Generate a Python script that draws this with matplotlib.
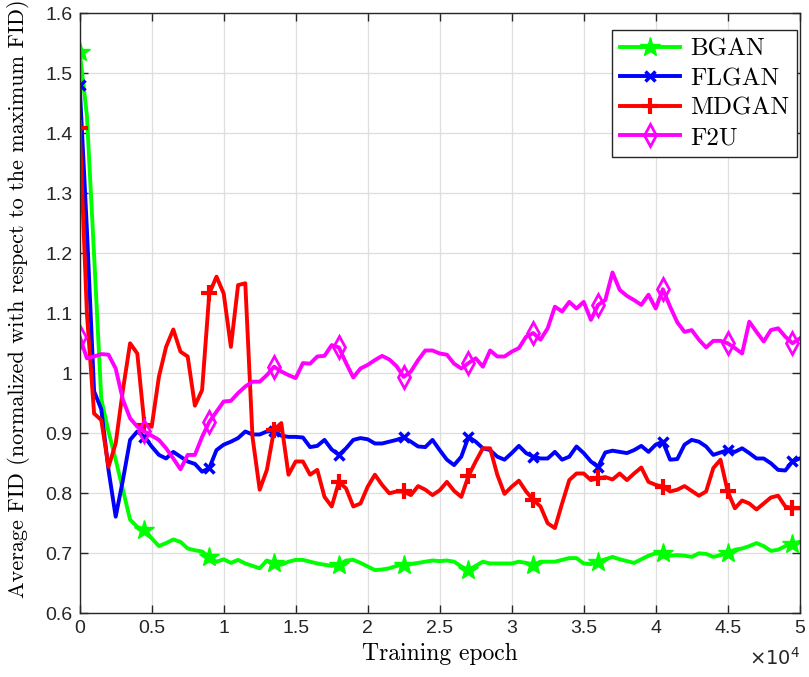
import numpy as np
import matplotlib
matplotlib.use("Agg")
import matplotlib.pyplot as plt

# training epochs (one sample every 500 epochs)
epochs = np.arange(0, 50001, 500)

bgan = [1.536, 1.43, 1.197, 0.957, 0.903, 0.856, 0.806, 0.756, 0.744, 0.739,
        0.725, 0.712, 0.717, 0.723, 0.719, 0.708, 0.705, 0.703, 0.694, 0.686,
        0.690, 0.684, 0.689, 0.683, 0.679, 0.675, 0.688, 0.683, 0.681, 0.686,
        0.689, 0.689, 0.686, 0.683, 0.681, 0.679, 0.681, 0.688, 0.689, 0.684,
        0.678, 0.672, 0.673, 0.675, 0.679, 0.681, 0.682, 0.684, 0.686, 0.688,
        0.687, 0.688, 0.686, 0.678, 0.672, 0.679, 0.686, 0.683, 0.683, 0.683,
        0.683, 0.686, 0.684, 0.681, 0.686, 0.686, 0.686, 0.689, 0.692, 0.692,
        0.683, 0.682, 0.686, 0.690, 0.694, 0.690, 0.687, 0.684, 0.690, 0.696,
        0.700, 0.700, 0.696, 0.697, 0.696, 0.694, 0.700, 0.699, 0.694, 0.697,
        0.700, 0.706, 0.708, 0.712, 0.717, 0.712, 0.704, 0.706, 0.712, 0.716,
        0.719]

flgan = [1.48, 1.24, 0.97, 0.94, 0.839, 0.761, 0.822, 0.889, 0.903, 0.894,
         0.878, 0.864, 0.858, 0.869, 0.861, 0.853, 0.849, 0.836, 0.842, 0.872,
         0.881, 0.886, 0.892, 0.903, 0.898, 0.898, 0.903, 0.904, 0.896, 0.894,
         0.894, 0.893, 0.877, 0.879, 0.889, 0.873, 0.864, 0.875, 0.889, 0.892,
         0.890, 0.883, 0.883, 0.886, 0.889, 0.893, 0.886, 0.878, 0.877, 0.889,
         0.872, 0.856, 0.847, 0.861, 0.894, 0.886, 0.875, 0.872, 0.861, 0.856,
         0.867, 0.879, 0.867, 0.861, 0.858, 0.858, 0.869, 0.856, 0.861, 0.878,
         0.867, 0.853, 0.844, 0.868, 0.871, 0.869, 0.867, 0.872, 0.879, 0.869,
         0.881, 0.886, 0.856, 0.857, 0.881, 0.889, 0.886, 0.878, 0.864, 0.868,
         0.872, 0.869, 0.875, 0.867, 0.858, 0.858, 0.850, 0.839, 0.838, 0.853,
         0.858]

mdgan = [1.409, 1.10, 0.933, 0.922, 0.844, 0.883, 0.972, 1.050, 1.033, 0.914,
         0.911, 0.994, 1.044, 1.073, 1.036, 1.028, 0.946, 0.972, 1.133, 1.161,
         1.133, 1.044, 1.147, 1.150, 0.894, 0.806, 0.839, 0.906, 0.917, 0.831,
         0.853, 0.853, 0.831, 0.839, 0.794, 0.778, 0.819, 0.808, 0.778, 0.783,
         0.811, 0.831, 0.814, 0.800, 0.803, 0.803, 0.797, 0.812, 0.806, 0.797,
         0.805, 0.819, 0.804, 0.794, 0.829, 0.853, 0.875, 0.875, 0.831, 0.799,
         0.811, 0.821, 0.803, 0.789, 0.778, 0.750, 0.742, 0.783, 0.822, 0.833,
         0.833, 0.822, 0.825, 0.827, 0.823, 0.833, 0.822, 0.833, 0.843, 0.819,
         0.814, 0.811, 0.803, 0.806, 0.812, 0.804, 0.796, 0.803, 0.842, 0.856,
         0.803, 0.775, 0.788, 0.783, 0.773, 0.783, 0.793, 0.796, 0.778, 0.775,
         0.775]

f2u = [1.061, 1.025, 1.028, 1.032, 1.031, 1.008, 0.956, 0.925, 0.911, 0.903,
       0.896, 0.889, 0.875, 0.858, 0.840, 0.864, 0.864, 0.894, 0.919, 0.936,
       0.953, 0.954, 0.967, 0.978, 0.986, 0.986, 0.997, 1.011, 1.003, 0.997,
       0.992, 1.017, 1.016, 1.028, 1.029, 1.047, 1.043, 1.017, 0.993, 1.008,
       1.014, 1.022, 1.029, 1.023, 1.012, 0.994, 1.003, 1.022, 1.038, 1.038,
       1.033, 1.031, 1.016, 1.008, 1.017, 1.025, 1.011, 1.038, 1.028, 1.028,
       1.036, 1.042, 1.061, 1.067, 1.056, 1.075, 1.111, 1.103, 1.119, 1.108,
       1.119, 1.089, 1.114, 1.122, 1.168, 1.139, 1.129, 1.122, 1.114, 1.131,
       1.108, 1.140, 1.111, 1.085, 1.069, 1.072, 1.056, 1.043, 1.054, 1.054,
       1.050, 1.042, 1.033, 1.086, 1.069, 1.053, 1.072, 1.075, 1.061, 1.050,
       1.058]

x_ticks = [0, 5000, 10000, 15000, 20000, 25000, 30000, 35000, 40000, 45000, 50000]
x_tick_labels = ['0', '0.5', '1', '1.5', '2', '2.5', '3', '3.5', '4', '4.5', '5']
y_ticks = [0.6, 0.7, 0.8, 0.9, 1.0, 1.1, 1.2, 1.3, 1.4, 1.5, 1.6]
y_tick_labels = ['0.6', '0.7', '0.8', '0.9', '1', '1.1', '1.2', '1.3', '1.4', '1.5', '1.6']

serif = 'cmr10'
tick_font = 'Liberation Sans'

fig = plt.figure(figsize=(8.09, 6.77), dpi=100)
ax = fig.add_axes([0.0985, 0.0941, 0.890, 0.8863])

lw = 2.8
ax.plot(epochs, bgan, color='#00ff00', lw=lw, marker='*', markersize=15,
        markevery=9, label='BGAN')
ax.plot(epochs, flgan, color='#0000ff', lw=lw, marker='x', markersize=7,
        markeredgewidth=2.5, markevery=9, label='FLGAN')
ax.plot(epochs, mdgan, color='#ff0000', lw=lw, marker='+', markersize=11,
        markeredgewidth=3, markevery=9, label='MDGAN')
ax.plot(epochs, f2u, color='#ff00ff', lw=lw, marker='d', markersize=11,
        markerfacecolor='none', markeredgewidth=2, markevery=9, label='F2U')

ax.set_xlim(0, 50000)
ax.set_ylim(0.6, 1.6)
ax.set_xticks(x_ticks)
ax.set_xticklabels(x_tick_labels, fontfamily=tick_font, fontsize=14)
ax.set_yticks(y_ticks)
ax.set_yticklabels(y_tick_labels, fontfamily=tick_font, fontsize=14)

ax.grid(True, color='#dedede', lw=0.9)
ax.set_axisbelow(True)
ax.tick_params(direction='in', length=6, width=1, top=True, right=True,
               colors='#262626', pad=5)
for s in ax.spines.values():
    s.set_color('#262626')
    s.set_linewidth(1)

ax.set_xlabel('Training epoch', fontfamily=serif, fontsize=17, labelpad=4)
ax.set_ylabel('Average FID (normalized with respect to the maximum FID)',
              fontfamily=serif, fontsize=16)
ax.yaxis.set_label_coords(-0.069, 0.525)
ax.text(1.0, -0.056, r'$\times10^4$', transform=ax.transAxes, ha='right',
        va='top', fontsize=14, color='#262626')

leg = ax.legend(loc='upper right', bbox_to_anchor=(0.9963, 0.972),
                borderaxespad=0, fancybox=False, framealpha=1,
                edgecolor='#262626', prop={'family': serif, 'size': 18},
                handlelength=2.4, labelspacing=0.28, handletextpad=0.4,
                borderpad=0.32)
leg.get_frame().set_linewidth(1)

fig.savefig('out.png', dpi=100)
